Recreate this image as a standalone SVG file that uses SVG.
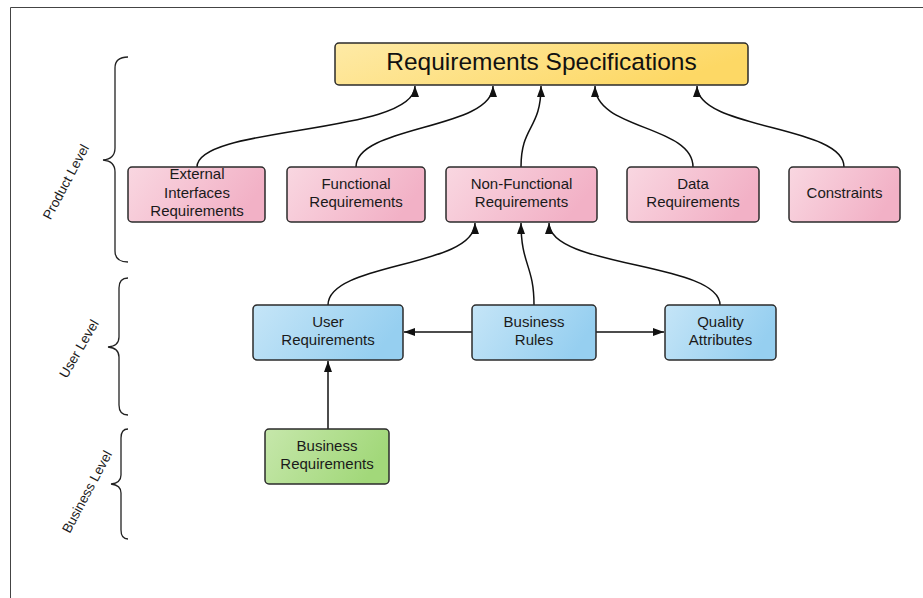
<svg xmlns="http://www.w3.org/2000/svg" width="923" height="598" viewBox="0 0 923 598">
  <style>
    .box { stroke: #2b2b2b; stroke-width: 1.5; }
    .lbl { font-family: "Liberation Sans", Arial, sans-serif; font-size: 15px; fill: #1a1a1a; text-anchor: middle; }
    .title { font-family: "Liberation Sans", Arial, sans-serif; font-size: 24.5px; fill: #111; text-anchor: middle; }
    .lvl { font-family: "Liberation Sans", Arial, sans-serif; font-size: 13.5px; fill: #1a1a1a; text-anchor: middle; }
    .edge { fill: none; stroke: #111; stroke-width: 1.5; }
    .brace { fill: none; stroke: #222; stroke-width: 1.3; }
  </style>
  <defs>
    <linearGradient id="gYellow" x1="0" y1="0" x2="1" y2="0.3">
      <stop offset="0" stop-color="#feeaa6"/>
      <stop offset="1" stop-color="#fdd865"/>
    </linearGradient>
    <linearGradient id="gPink" x1="0" y1="0" x2="1" y2="0.3">
      <stop offset="0" stop-color="#f9d7e1"/>
      <stop offset="1" stop-color="#f2b1c6"/>
    </linearGradient>
    <linearGradient id="gBlue" x1="0" y1="0" x2="1" y2="0.3">
      <stop offset="0" stop-color="#c5e5f7"/>
      <stop offset="1" stop-color="#96cff0"/>
    </linearGradient>
    <linearGradient id="gGreen" x1="0" y1="0" x2="1" y2="0.3">
      <stop offset="0" stop-color="#c6e7ab"/>
      <stop offset="1" stop-color="#a2d87a"/>
    </linearGradient>
    <marker id="arrow" viewBox="0 0 11 8" refX="11" refY="4" markerWidth="11" markerHeight="8" markerUnits="userSpaceOnUse" orient="auto">
      <path d="M0,0 L11,4 L0,8 Z" fill="#111"/>
    </marker>
  </defs>

  <rect width="923" height="598" fill="#ffffff"/>
  <!-- frame -->
  <path d="M10.5,598 L10.5,7.5 L923,7.5" fill="none" stroke="#444" stroke-width="1"/>

  <!-- level braces -->
  <g id="levels">
    <path class="brace" d="M128,57 Q115,57 115,68 L115,148 Q115,159 103,160 Q115,161 115,172 L115,251 Q115,262 128,262"/>
    <text class="lvl" transform="translate(70,184) rotate(-62)">Product Level</text>
    <path class="brace" d="M128,278 Q119,278 119,288 L119,337 Q119,346 108,347 Q119,348 119,357 L119,405 Q119,415 128,415"/>
    <text class="lvl" transform="translate(83,351) rotate(-60)">User Level</text>
    <path class="brace" d="M128,429 Q121,429 121,438 L121,475 Q121,483 111,484 Q121,485 121,493 L121,530 Q121,539 128,539"/>
    <text class="lvl" transform="translate(91,494) rotate(-62)">Business Level</text>
  </g>

  <!-- connectors -->
  <g id="connectors">
    <path class="edge" marker-end="url(#arrow)" d="M197,167 C197,125 415,135 415,86"/>
    <path class="edge" marker-end="url(#arrow)" d="M356,167 C356,125 493,130 493,86"/>
    <path class="edge" marker-end="url(#arrow)" d="M521,167 C521,125 541,130 541,86"/>
    <path class="edge" marker-end="url(#arrow)" d="M693,167 C693,125 595,130 595,86"/>
    <path class="edge" marker-end="url(#arrow)" d="M844,167 C844,125 697,130 697,86"/>
    <path class="edge" marker-end="url(#arrow)" d="M328,305 C328,262 475,268 475,223"/>
    <path class="edge" marker-end="url(#arrow)" d="M534,305 C534,265 521,265 521,223"/>
    <path class="edge" marker-end="url(#arrow)" d="M720,305 C720,262 549,268 549,223"/>
    <path class="edge" marker-end="url(#arrow)" d="M472,332 L404,332"/>
    <path class="edge" marker-end="url(#arrow)" d="M596,332 L664,332"/>
    <path class="edge" marker-end="url(#arrow)" d="M328,429 L328,361"/>
  </g>

  <!-- nodes -->
  <g id="req-spec">
    <rect class="box" x="335" y="43" width="413" height="42" rx="4" fill="url(#gYellow)"/>
    <text class="title" x="541.5" y="70">Requirements Specifications</text>
  </g>
  <g id="external-interfaces">
    <rect class="box" x="128" y="167" width="137" height="55" rx="4" fill="url(#gPink)"/>
    <text class="lbl" x="197" y="179">External</text>
    <text class="lbl" x="197" y="198">Interfaces</text>
    <text class="lbl" x="197" y="216">Requirements</text>
  </g>
  <g id="functional">
    <rect class="box" x="287" y="167" width="138" height="55" rx="4" fill="url(#gPink)"/>
    <text class="lbl" x="356" y="189">Functional</text>
    <text class="lbl" x="356" y="207">Requirements</text>
  </g>
  <g id="non-functional">
    <rect class="box" x="446" y="167" width="151" height="55" rx="4" fill="url(#gPink)"/>
    <text class="lbl" x="521.5" y="189">Non-Functional</text>
    <text class="lbl" x="521.5" y="207">Requirements</text>
  </g>
  <g id="data">
    <rect class="box" x="627" y="167" width="132" height="55" rx="4" fill="url(#gPink)"/>
    <text class="lbl" x="693" y="189">Data</text>
    <text class="lbl" x="693" y="207">Requirements</text>
  </g>
  <g id="constraints">
    <rect class="box" x="789" y="167" width="111" height="55" rx="4" fill="url(#gPink)"/>
    <text class="lbl" x="844.5" y="198">Constraints</text>
  </g>
  <g id="user-requirements">
    <rect class="box" x="253" y="305" width="150" height="55" rx="4" fill="url(#gBlue)"/>
    <text class="lbl" x="328" y="327">User</text>
    <text class="lbl" x="328" y="345">Requirements</text>
  </g>
  <g id="business-rules">
    <rect class="box" x="472" y="305" width="124" height="55" rx="4" fill="url(#gBlue)"/>
    <text class="lbl" x="534" y="327">Business</text>
    <text class="lbl" x="534" y="345">Rules</text>
  </g>
  <g id="quality-attributes">
    <rect class="box" x="665" y="305" width="111" height="55" rx="4" fill="url(#gBlue)"/>
    <text class="lbl" x="720.5" y="327">Quality</text>
    <text class="lbl" x="720.5" y="345">Attributes</text>
  </g>
  <g id="business-requirements">
    <rect class="box" x="265" y="429" width="124" height="55" rx="4" fill="url(#gGreen)"/>
    <text class="lbl" x="327" y="451">Business</text>
    <text class="lbl" x="327" y="469">Requirements</text>
  </g>
</svg>
